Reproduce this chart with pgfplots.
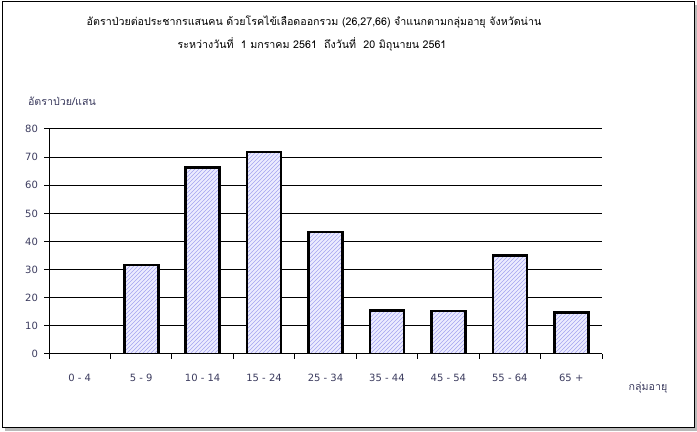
\documentclass[border=0pt]{standalone}
\usepackage{fontspec}
\setmainfont[Script=Thai]{Loma}
\newfontfamily\numfont{DejaVu Sans}
\usepackage{pgfplots}
\pgfplotsset{compat=1.18}
\usetikzlibrary{patterns}
\definecolor{txt}{RGB}{60,60,95}
\definecolor{barfill}{RGB}{236,236,255}
\definecolor{hatch}{RGB}{165,165,240}
\begin{document}
\begin{tikzpicture}[x=0.75pt,y=0.75pt]
\path[use as bounding box] (0,0) rectangle (697,432);
\fill[gray!55] (5,1) rectangle (697,427);
\draw[fill=white, line width=0.75pt] (2,4) rectangle (694,430);
\node[font=\fontsize{8}{10}\selectfont] at (314,410) {อัตราป่วยต่อประชากรแสนคน ด้วยโรคไข้เลือดออกรวม (26,27,66) จำแนกตามกลุ่มอายุ จังหวัดน่าน};
\node[font=\fontsize{8}{10}\selectfont] at (312,388) {ระหว่างวันที่~~1 มกราคม 2561~~ถึงวันที่~~20 มิถุนายน 2561};
\node[font=\fontsize{8}{10}\selectfont, text=txt] at (62,331) {อัตราป่วย/แสน};
\node[font=\fontsize{8}{10}\selectfont, text=txt] at (648,44) {กลุ่มอายุ};
\begin{axis}[
  at={(36.75pt,58.5pt)}, anchor=south west,
  scale only axis, width=414.75pt, height=168.75pt,
  xmin=-0.5, xmax=8.5, ymin=0, ymax=80,
  axis x line*=bottom, axis y line*=left,
  axis line style={-, line width=0.75pt, black},
  ytick={0,10,...,80},
  ymajorgrids, grid style={black, line width=0.75pt},
  xtick={0,...,8},
  xticklabels={0 - 4, 5 - 9, 10 - 14, 15 - 24, 25 - 34, 35 - 44, 45 - 54, 55 - 64, 65 +},
  minor xtick={-0.5,0.5,...,8.5},
  tick align=outside,
  major x tick style={draw=none},
  major tick length=3.75pt,
  minor tick length=3.75pt,
  tick style={black, line width=0.75pt},
  /pgf/number format/assume math mode=true,
  ticklabel style={font=\numfont\fontsize{7.5}{9}\selectfont, text=txt},
  xticklabel style={yshift=-8pt},
  yticklabel style={xshift=-1pt},
]
\addplot[ybar, bar width=25.5pt, draw=black, line width=2pt,
  preaction={fill=barfill}, pattern=north east lines, pattern color=hatch]
  coordinates {(1,31.6) (2,66.2) (3,71.8) (4,43.4) (5,15.5) (6,15.3) (7,35.0) (8,14.7)};
\end{axis}
\end{tikzpicture}
\end{document}
